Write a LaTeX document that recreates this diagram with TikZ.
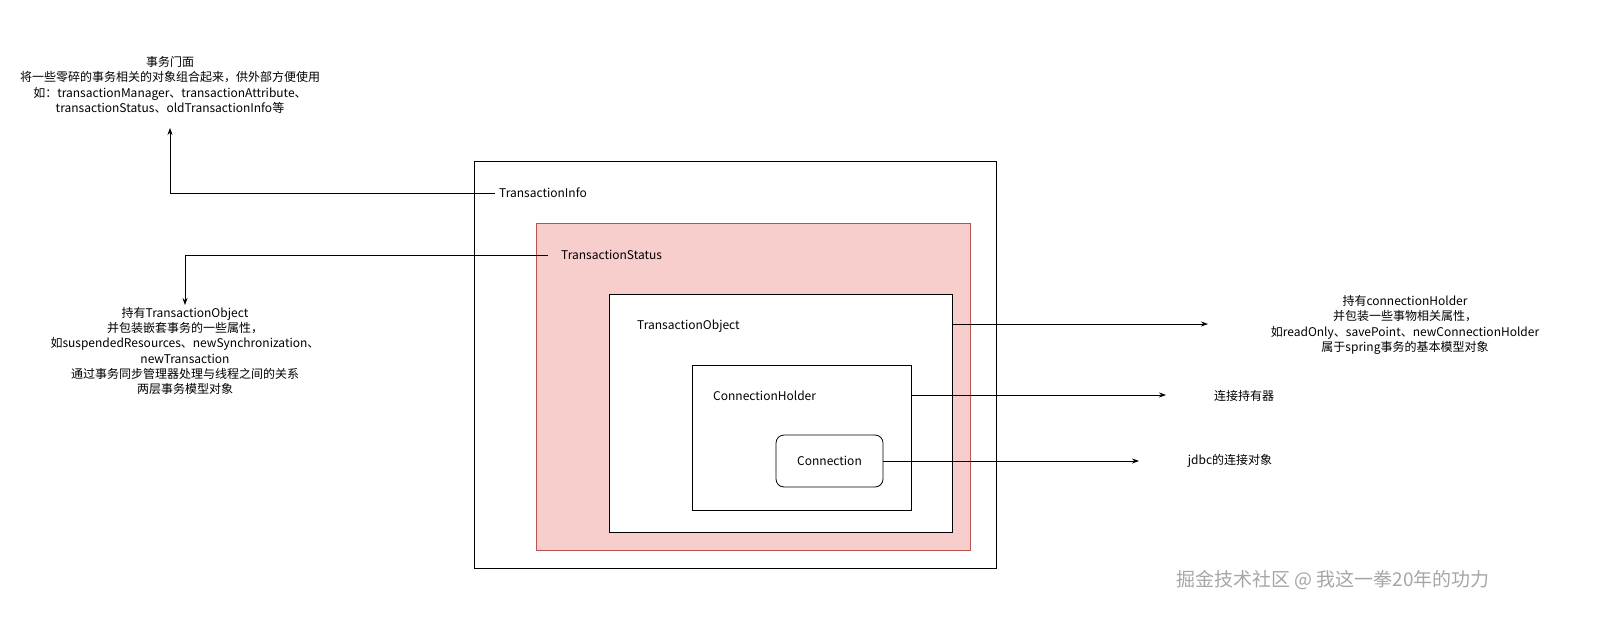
\documentclass[tikz,border=0pt]{standalone}
\usepackage{fontspec}
\setmainfont{Noto Sans CJK SC}
\usetikzlibrary{arrows.meta}
\definecolor{pinkf}{HTML}{F8CECC}
\definecolor{pinkd}{HTML}{B85450}
\begin{document}
\begin{tikzpicture}[x=1pt,y=-1pt,
  box/.style={draw=black,line width=0.8pt},
  lbl/.style={anchor=west,font=\fontsize{12}{13}\selectfont,inner sep=0},
  txt/.style={align=center,font=\fontsize{12}{15.2}\selectfont,inner sep=0},
  arr/.style={-{Stealth[length=7pt,width=5pt]},line width=0.8pt}]
\draw[box] (474,161) rectangle (996,568);
\draw[line width=0.8pt,draw=pinkd,fill=pinkf] (536,223) rectangle (970,550);
\draw[box,fill=white] (609,294) rectangle (952,532);
\draw[box] (692,365) rectangle (911,510);
\node[draw,line width=0.8pt,rounded corners=8pt,minimum width=107pt,minimum height=52pt,font=\fontsize{12}{13}\selectfont] (conn) at (829.5,461) {Connection};
\node[lbl] (info) at (499,193) {TransactionInfo};
\node[lbl] (status) at (561,255) {TransactionStatus};
\node[lbl] (obj) at (637,326) {TransactionObject};
\node[lbl] (holder) at (713,396) {ConnectionHolder};
\node[txt] (t1) at (170,85) {事务门面\\将一些零碎的事务相关的对象组合起来，供外部方便使用\\如：transactionManager、transactionAttribute、\\transactionStatus、oldTransactionInfo等};
\node[txt] (t2) at (185,351) {持有TransactionObject\\并包装嵌套事务的一些属性，\\如suspendedResources、newSynchronization、\\newTransaction\\通过事务同步管理器处理与线程之间的关系\\两层事务模型对象};
\node[txt] (t3) at (1405,325) {持有connectionHolder\\并包装一些事物相关属性，\\如readOnly、savePoint、newConnectionHolder\\属于spring事务的基本模型对象};
\node[txt] (t4) at (1244,396) {连接持有器};
\node[txt] (t5) at (1230,461) {jdbc的连接对象};
\coordinate (a1) at (170,128);
\coordinate (a2) at (185,305);
\coordinate (a3) at (1208,324);
\coordinate (a4) at (1166,395);
\coordinate (a5) at (1139,461);
\draw[arr] (info.west) ++(-4,0) -| (a1);
\draw[arr] (status.west) ++(-13,0) -| (a2);
\draw[arr] (952,324) -- (a3);
\draw[arr] (911,395) -- (a4);
\draw[arr] (conn.east) -- (a5);
\node[font=\fontsize{19}{20}\selectfont,text=gray!70] (wm) at (1333,580) {掘金技术社区 @ 我这一拳20年的功力};
\pgfresetboundingbox
\useasboundingbox (0,0) rectangle (1597,624);
\end{tikzpicture}
\end{document}
